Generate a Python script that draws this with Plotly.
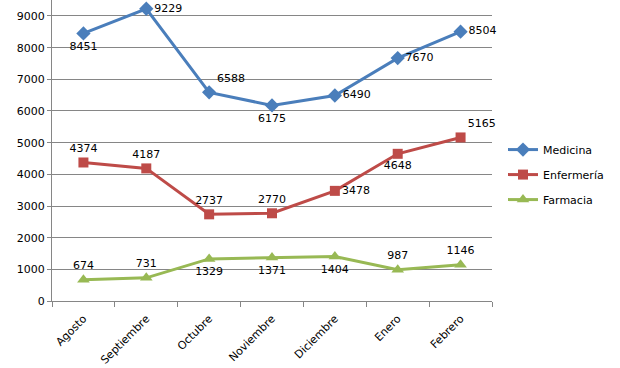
import plotly.graph_objects as go

months = ["Agosto", "Septiembre", "Octubre", "Noviembre", "Diciembre", "Enero", "Febrero"]
medicina = [8451, 9229, 6588, 6175, 6490, 7670, 8504]
enfermeria = [4374, 4187, 2737, 2770, 3478, 4648, 5165]
farmacia = [674, 731, 1329, 1371, 1404, 987, 1146]

pos_med = ["bottom center", "middle right", "top right", "bottom center", "middle right", "middle right", "middle right"]
pos_enf = ["top center", "top center", "top center", "top center", "middle right", "bottom center", "top right"]
pos_far = ["top center", "top center", "bottom center", "bottom center", "bottom center", "top center", "top center"]

FONT = "DejaVu Sans"
fig = go.Figure()
series = [
    ("Medicina", medicina, "#4A7EBB", "diamond", 11, pos_med),
    ("Enfermería", enfermeria, "#BE4B48", "square", 10, pos_enf),
    ("Farmacia", farmacia, "#98B954", "triangle-up", 11, pos_far),
]
for name, vals, col, sym, ms, pos in series:
    fig.add_trace(go.Scatter(
        x=months, y=vals, name=name, mode="lines+markers+text",
        line=dict(color=col, width=3),
        marker=dict(symbol=sym, size=ms, color=col),
        text=[str(v) for v in vals], textposition=pos,
        textfont=dict(family=FONT, size=11, color="#000000"),
        legendgroup=name, cliponaxis=False,
    ))

fig.update_layout(
    width=620, height=368,
    margin=dict(l=52, r=128, t=0, b=67),
    paper_bgcolor="white", plot_bgcolor="white",
    font=dict(family=FONT, size=11, color="#000000"),
    showlegend=True,
    legend=dict(x=1.025, xanchor="left", y=0.42, yanchor="middle",
                font=dict(family=FONT, size=11), traceorder="grouped",
                tracegroupgap=6, itemwidth=30),
    xaxis=dict(type="category", tickangle=-45, showgrid=False, automargin=False,
               showline=True, linecolor="#868686", linewidth=1,
               ticks="outside", tickson="boundaries", ticklen=5, tickcolor="#868686",
               tickfont=dict(family=FONT, size=11), ticklabelstandoff=6,
               range=[-0.5, 6.5]),
    yaxis=dict(range=[0, 9505], tickvals=list(range(0, 10000, 1000)), automargin=False,
               showgrid=True, gridcolor="#868686", gridwidth=1,
               showline=True, linecolor="#868686", linewidth=1,
               ticks="outside", ticklen=4, tickcolor="#868686",
               zeroline=False, tickfont=dict(family=FONT, size=11)),
)
fig.write_html("out.html", config={"displayModeBar": False},
               post_script="document.body.style.margin='0';document.body.style.padding='0';")
